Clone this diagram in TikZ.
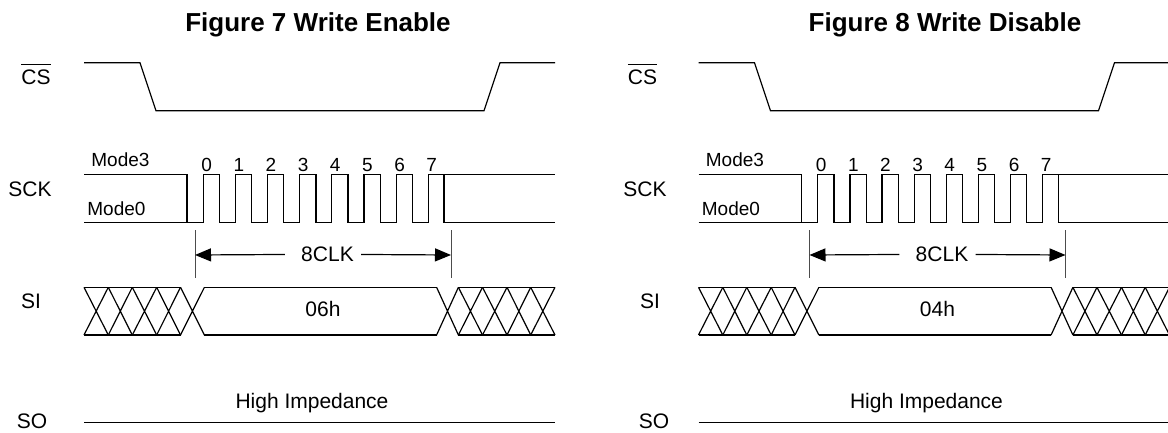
\documentclass[tikz,border=0pt]{standalone}
\usepackage{fontspec}
\setmainfont{Liberation Sans}
\usetikzlibrary{arrows.meta,positioning}

\newcommand{\barred}[1]{\vbox{\hrule height 0.6pt\kern 2.8pt\hbox{#1}}}

\begin{document}
\begin{tikzpicture}[
    x=0.5pt, y=-0.5pt,
    >={Triangle[length=8pt,width=6.5pt]},
    wave/.style={line width=0.6pt},
    sig/.style={anchor=base, inner sep=0pt, font=\fontsize{10.5}{12}\selectfont},
    small/.style={anchor=base, inner sep=0pt, font=\fontsize{9.5}{11}\selectfont},
    heading/.style={anchor=base, inner sep=0pt, font=\fontsize{13}{15}\selectfont\bfseries},
    tick/.style={line width=0.4pt, draw=black!70}
]

\useasboundingbox (0,0) rectangle (1168,433);

\foreach \dx/\fig/\ttl/\code/\tx/\csx/\sckx/\six/\sox in {0/7/Write Enable/06h/318/36/30/31/32, 614.5/8/Write Disable/04h/330.5/28/30.5/35.5/39.5}
{
\begin{scope}[shift={(\dx,0)}]

% TITLE
\node[heading] (title\fig) at (\tx,32) {Figure \fig\ \ttl};

% SIGNAL NAMES
\node[sig] (csname\fig)  at (\csx,85)    {\barred{CS}};
\node[sig] (sckname\fig) at (\sckx,197)  {SCK};
\node[sig] (siname\fig)  at (\six,308)   {SI};
\node[sig] (soname\fig)  at (\sox,428.5) {SO};

% CS
\draw[wave] (84,62.7) -- (140,62.7) -- (156,110.7) -- (484,110.7) -- (500,62.7) -- (555,62.7);

% SCK
\node[small, anchor=base west] (mthree\fig) at (91,167) {Mode3};
\node[small, anchor=base west] (mzero\fig)  at (87,215) {Mode0};
\draw[wave] (84,174.3) -- (187,174.3) -- (187,222.7);
\draw[wave] (84,222.7) foreach \i in {0,...,6} {
    -- ({203.3+32.14*\i},222.7) -- ({203.3+32.14*\i},174.3)
    -- ({219.5+32.14*\i},174.3) -- ({219.5+32.14*\i},222.7) }
    -- (428.3,222.7) -- (428.3,174.3) -- (555,174.3);
\draw[wave] (444,174.3) -- (444,222.7) -- (555,222.7);
\foreach \i in {0,...,7}
    \node[small] (clk\fig\i) at ({206.7+32.14*\i},171.7) {\i};

% 8CLK
\coordinate (clkl\fig) at (195,255);
\coordinate (clkr\fig) at (451,255);
\draw[tick] (clkl\fig) ++(0,-25) -- ++(0,48);
\draw[tick] (clkr\fig) ++(0,-25) -- ++(0,48);
\node[sig] (eight\fig) at (327.5,261.7) {8CLK};
\draw[wave,->] ([xshift=-8pt]eight\fig.west) -- (clkl\fig);
\draw[wave,->] ([xshift=3.5pt]eight\fig.east) -- (clkr\fig);

% SI
\draw[wave] (84,287.3) -- (180.5,287.3) (84,335) -- (180.5,335)
    (204.4,287.3) -- (436.6,287.3) (204.4,335) -- (436.6,335)
    (458.4,287.3) -- (555,287.3) (458.4,335) -- (555,335);
\foreach \a/\b in {84/108.3, 108.3/132.3, 132.3/156.7, 156.7/180.5, 180.5/204.4,
    436.6/458.4, 458.4/482.5, 482.5/507, 507/530.7, 530.7/555}
    \draw[wave] (\a,287.3) -- (\b,335) (\a,335) -- (\b,287.3);
\node[sig] (data\fig) at (323,316.7) {\code};

% SO
\node[sig] (hiz\fig) at (312,408) {High Impedance};
\draw[wave] (84,422.3) -- (555,422.3);

\end{scope}
}

\end{tikzpicture}
\end{document}
